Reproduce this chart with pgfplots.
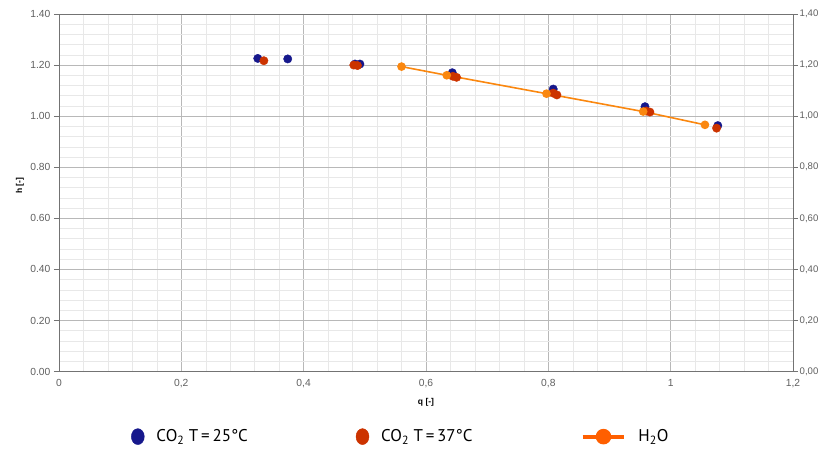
\documentclass[border=0pt]{standalone}
\usepackage{fontspec}
\setmainfont{Liberation Sans}
\newfontfamily\legfont{PT Sans}
\usepackage{pgfplots}
\pgfplotsset{compat=1.18}
\definecolor{cblue}{RGB}{22,24,140}
\definecolor{cred}{RGB}{204,51,0}
\definecolor{corange}{RGB}{250,135,15}
\definecolor{corangeleg}{RGB}{255,95,0}
\definecolor{tickgray}{RGB}{95,95,95}
\begin{document}
\begin{tikzpicture}
\begin{axis}[
  name=ax,
  scale only axis, width=735pt, height=358pt,
  xmin=0, xmax=1.2, ymin=0, ymax=1.4,
  xtick={0,0.2,0.4,0.6,0.8,1.0,1.2},
  xticklabels={0,{0,2},{0,4},{0,6},{0,8},1,{1,2}},
  ytick={0,0.2,0.4,0.6,0.8,1.0,1.2,1.4},
  yticklabels={0.00,0.20,0.40,0.60,0.80,1.00,1.20,1.40},
  minor x tick num=4, minor y tick num=4,
  grid=both,
  major grid style={draw=black!28, line width=0.6pt},
  minor grid style={draw=black!9, line width=0.5pt},
  axis line style={draw=black!55, line width=0.8pt},
  xtick style={draw=none},
  minor tick length=0pt,
  ytick style={draw=black!55, line width=0.8pt},
  ytick pos=left, tick align=outside, major tick length=5pt,
  tick label style={font=\fontsize{10.3}{12}\selectfont, text=tickgray},
  xticklabel style={yshift=1pt},
  xlabel={\bfseries q [-]},
  xlabel style={font=\fontsize{8.5}{10}\selectfont, at={(axis description cs:0.5,-0.087)}, anchor=center},
  ylabel={\bfseries h [-]},
  ylabel style={font=\fontsize{8.5}{10}\selectfont, at={(axis description cs:-0.053,0.52)}, anchor=center},
  legend columns=3,
  legend cell align=left,
  legend style={draw=none, fill=none, at={(axis description cs:0.094,-0.182)}, anchor=west,
    font=\legfont\fontsize{17}{20}\selectfont,
    /tikz/every even column/.append style={column sep=106pt},
    /tikz/every odd column/.append style={column sep=10pt}},
]
\addplot[only marks, mark=*, mark size=4.2pt, mark options={fill=cblue, draw=cblue},
  legend image code/.code={\fill[cblue] (7pt,0pt) ellipse [x radius=6.5pt, y radius=8pt];}]
  coordinates {(0.325,1.226) (0.374,1.224) (0.484,1.204) (0.492,1.204)
   (0.643,1.170) (0.808,1.106) (0.958,1.037) (1.077,0.963)};
\addlegendentry{CO\textsubscript{2} T\,=\,25°C}
\addplot[only marks, mark=*, mark size=4.2pt, mark options={fill=cred, draw=cred},
  legend image code/.code={\fill[cred] (7pt,0pt) ellipse [x radius=6.5pt, y radius=8pt];}]
  coordinates {(0.335,1.217) (0.482,1.200) (0.488,1.198) (0.650,1.152) (0.644,1.156)
   (0.808,1.090) (0.814,1.083) (0.960,1.020) (0.966,1.016) (1.075,0.953)};
\addlegendentry{CO\textsubscript{2} T\,=\,37°C}
\addplot[color=corange, line width=1.6pt, mark=*, mark size=3.5pt, mark options={fill=corange, draw=corange},
  legend image code/.code={\draw[corangeleg, line width=4pt] (0pt,0pt)--(42pt,0pt); \fill[corangeleg] (21pt,0pt) circle (7pt);}]
  coordinates {(0.560,1.194) (0.634,1.160) (0.797,1.088) (0.955,1.018) (1.056,0.966)};
\addlegendentry{H\textsubscript{2}O}
\end{axis}
\begin{axis}[
  scale only axis, width=735pt, height=358pt,
  xmin=0, xmax=1.2, ymin=0, ymax=1.4,
  axis x line=none, axis y line*=right,
  ytick={0,0.2,0.4,0.6,0.8,1.0,1.2,1.4},
  yticklabels={{0,00},{0,20},{0,40},{0,60},{0,80},{1,00},{1,20},{1,40}},
  axis line style={draw=black!55, line width=0.8pt},
  ytick style={draw=black!55, line width=0.8pt},
  tick align=outside, major tick length=5pt,
  yticklabel style={font=\fontsize{9.6}{11}\selectfont, text=tickgray, inner xsep=1.5pt},
]
\addplot[draw=none] coordinates {(0,0)};
\end{axis}
\pgfresetboundingbox
\path ([shift={(-59pt,-80pt)}]ax.south west) rectangle ([shift={(31pt,14pt)}]ax.north east);
\end{tikzpicture}
\end{document}
